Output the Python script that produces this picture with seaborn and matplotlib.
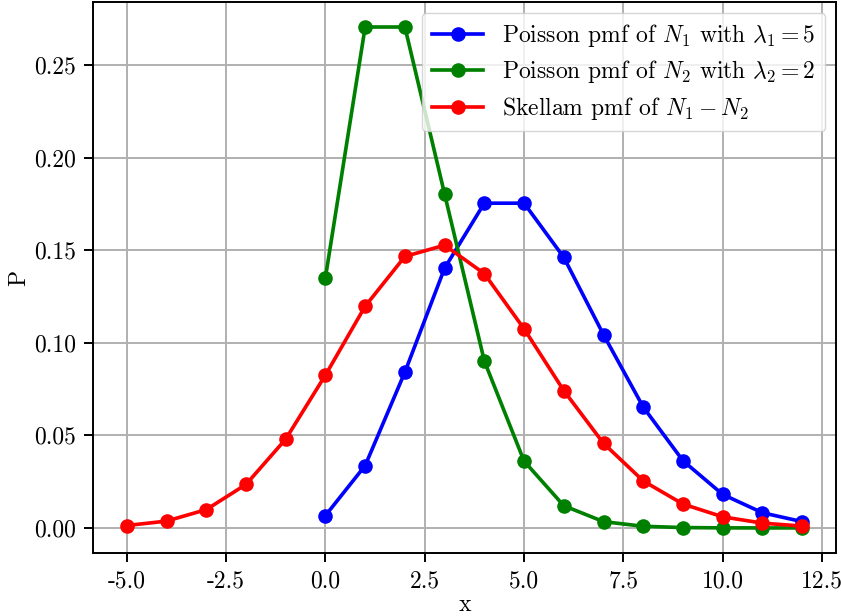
import matplotlib
matplotlib.use("Agg")
import matplotlib.pyplot as plt
import seaborn as sns
import pandas as pd

# Probability mass values for the two Poisson counts and their difference
k_poisson = list(range(0, 13))
pmf_n1 = [0.0067, 0.0337, 0.0842, 0.1404, 0.1755, 0.1755, 0.1462,
          0.1044, 0.0653, 0.0363, 0.0181, 0.0082, 0.0034]
pmf_n2 = [0.1353, 0.2707, 0.2707, 0.1804, 0.0902, 0.0361, 0.0120,
          0.0034, 0.0009, 0.0002, 0.00004, 0.00001, 0.000002]
k_skellam = list(range(-5, 13))
pmf_diff = [0.0013, 0.0037, 0.0099, 0.0235, 0.0480, 0.0826, 0.1198,
            0.1467, 0.1528, 0.1374, 0.1076, 0.0742, 0.0457, 0.0254,
            0.0129, 0.0060, 0.0026, 0.0010]

labels = [r"Poisson pmf of $N_1$ with $\lambda_1 = 5$",
          r"Poisson pmf of $N_2$ with $\lambda_2 = 2$",
          r"Skellam pmf of $N_1 - N_2$"]
colors = ["blue", "green", "red"]

# uniform scale factor applied to lines and markers
S = 1.75

plt.rcParams["font.family"] = "serif"
plt.rcParams["font.serif"] = ["cmr10"]
plt.rcParams["mathtext.fontset"] = "cm"
plt.rcParams["axes.unicode_minus"] = False
plt.rcParams["axes.formatter.use_mathtext"] = True
plt.rcParams["font.size"] = 17

fig, ax = plt.subplots(figsize=(8.41, 6.16), dpi=100)
fig.subplots_adjust(left=0.1106, right=0.994, top=0.9968, bottom=0.1023)

series = [(k_poisson, pmf_n1), (k_poisson, pmf_n2), (k_skellam, pmf_diff)]
for (xs, ys), lab, col in zip(series, labels, colors):
    df = pd.DataFrame({"x": xs, "P": ys})
    sns.lineplot(data=df, x="x", y="P", ax=ax, color=col, marker="o",
                 markersize=6 * S, markeredgewidth=0, linewidth=1.5 * S,
                 label=lab)

ax.grid(True, color="#b0b0b0", linewidth=0.8 * S)
ax.set_axisbelow(True)
ax.margins(x=0.05, y=0.05)
ax.tick_params(labelsize=17, length=3.5 * S, width=0.8 * S, pad=3.5 * S)
for s in ax.spines.values():
    s.set_linewidth(0.8 * S)
ax.set_xlabel("x", fontsize=17, labelpad=1)
ax.set_ylabel("P", fontsize=17, labelpad=3)
ax.xaxis.set_major_formatter(matplotlib.ticker.FuncFormatter(lambda v, p: f"{v:.1f}"))
ax.yaxis.set_major_formatter(matplotlib.ticker.FuncFormatter(lambda v, p: f"{v:.2f}"))
ax.legend(loc="upper right", fontsize=17, framealpha=0.8, labelspacing=0.4,
          handlelength=2.2, borderaxespad=0.45)

fig.savefig("out.png", dpi=100)
